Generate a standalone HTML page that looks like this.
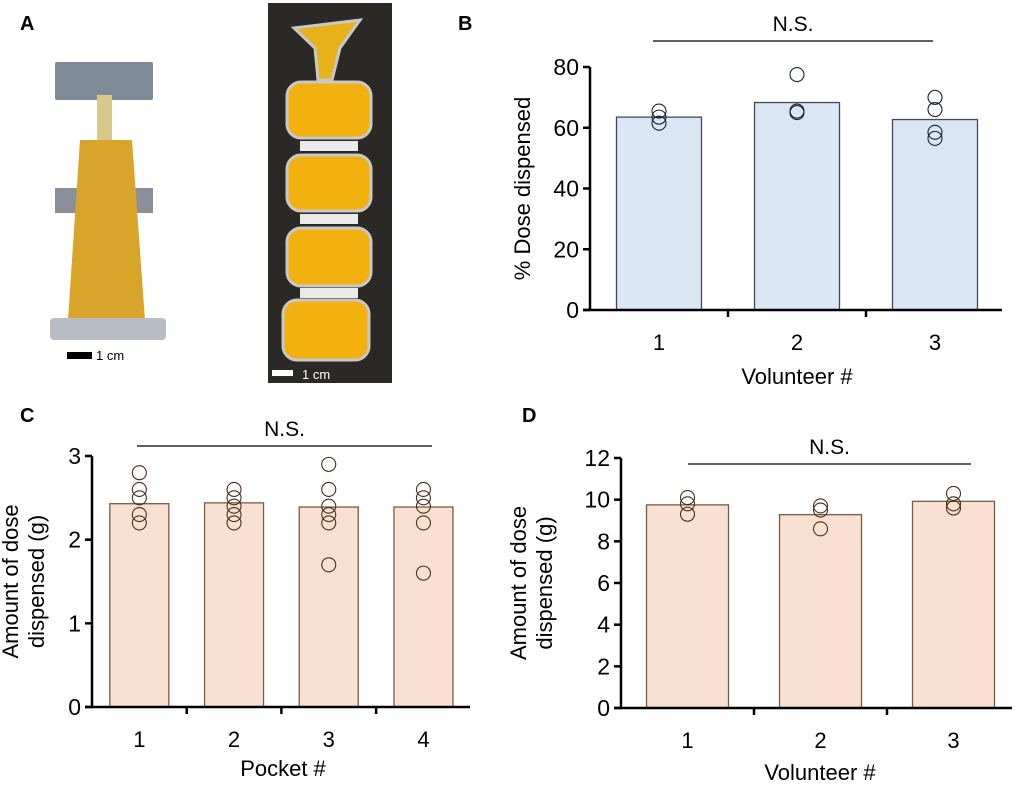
<!DOCTYPE html>
<html><head><meta charset="utf-8"><style>
html,body{margin:0;padding:0;background:#fff;}
svg{display:block;font-family:"Liberation Sans",Arial,sans-serif;}
</style></head><body>
<svg id="fig" width="1024" height="785" viewBox="0 0 1024 785" xmlns="http://www.w3.org/2000/svg">
<!-- Panel A photos -->
<g>
<text x="20" y="30" font-size="20" font-weight="bold">A</text>
<g>
<rect x="55" y="62" width="98" height="38" fill="#7f8a99" rx="2"/>
<rect x="97" y="95" width="15" height="45" fill="#d8c98a"/>
<rect x="55" y="188" width="98" height="25" fill="#8a8f9a"/>
<path d="M80 140 L132 140 L145 320 L68 320 Z" fill="#d9a42a"/>
<rect x="50" y="318" width="116" height="22" fill="#b8bcc4" rx="4"/>
<rect x="67" y="352" width="25" height="7" fill="#000"/>
<text x="96" y="360" font-size="13">1 cm</text>
</g>
<g>
<rect x="268" y="3" width="124" height="380" fill="#2b2925"/>
<path d="M294 28 L360 20 L340 48 L332 80 L318 80 L315 48 Z" fill="#e8b21a" stroke="#c8c8c8" stroke-width="3"/>
<rect x="287" y="82" width="84" height="56" rx="14" fill="#f2b10e" stroke="#c8c8c8" stroke-width="3"/>
<rect x="300" y="141" width="58" height="10" fill="#eaeaea"/>
<rect x="287" y="155" width="84" height="56" rx="14" fill="#f2b10e" stroke="#c8c8c8" stroke-width="3"/>
<rect x="300" y="214" width="58" height="10" fill="#eaeaea"/>
<rect x="287" y="228" width="84" height="58" rx="14" fill="#f2b10e" stroke="#c8c8c8" stroke-width="3"/>
<rect x="300" y="288" width="58" height="10" fill="#eaeaea"/>
<rect x="283" y="300" width="86" height="60" rx="14" fill="#f2b10e" stroke="#c8c8c8" stroke-width="3"/>
<rect x="272" y="370" width="21" height="6" fill="#fff"/>
<text x="302" y="379" font-size="13" fill="#fff">1 cm</text>
</g>
</g>
<g id="charts"></g>
</svg>
<script>
// Panel B
const bCats=["1","2","3"];
const bMeans=[63.5,68.3,62.7];
const bPts=[[65.5,63.5,61.5],[77.5,65,65.5],[70,66,58.5,56.5]];
const bTicks=[0,20,40,60,80];
// Panel C
const cCats=["1","2","3","4"];
const cMeans=[2.43,2.44,2.39,2.39];
const cPts=[[2.8,2.6,2.5,2.3,2.2],[2.6,2.5,2.4,2.3,2.2],[2.9,2.6,2.4,2.3,2.2,1.7],[2.6,2.5,2.4,2.2,1.6]];
const cTicks=[0,1,2,3];
// Panel D
const dCats=["1","2","3"];
const dMeans=[9.75,9.28,9.92];
const dPts=[[10.1,9.8,9.3],[9.7,9.5,8.6],[10.3,9.8,9.6]];
const dTicks=[0,2,4,6,8,10,12];

const NS="http://www.w3.org/2000/svg";
const root=document.getElementById('charts');
function mk(tag,attrs,parent){const e=document.createElementNS(NS,tag);for(const k in attrs)e.setAttribute(k,attrs[k]);(parent||root).appendChild(e);return e;}

function panel(o){
  const g=mk('g',{});
  
  
  const ymax=o.ticks[o.ticks.length-1];
  const y=v=>o.y0-(v/ymax)*(o.y0-o.yTop);
  const step=o.step;
  const cx=i=>o.x0+step/2+i*step;
  // bars
  o.means.forEach((m,i)=>{
    const r=mk('rect',{x:cx(i)-o.bw/2,y:y(m),width:o.bw,height:o.y0-y(m),fill:o.fill,stroke:o.stroke,'stroke-width':1.3},g);
    
    
  });
  // points
  o.pts.forEach((arr,i)=>arr.forEach(v=>{
    const c=mk('circle',{cx:cx(i),cy:y(v),r:o.pr,fill:'none',stroke:o.pstroke,'stroke-width':1.1},g);
    
    
  }));
  // axes
  const ax=mk('g',{},g);
  
  
  mk('line',{x1:o.x0,y1:o.yTop,x2:o.x0,y2:o.y0,stroke:'#000','stroke-width':2.5},ax);
  mk('line',{x1:o.x0-7,y1:o.y0,x2:o.xEnd,y2:o.y0,stroke:'#000','stroke-width':2.5},ax);
  o.ticks.forEach(t=>{
    mk('line',{x1:o.x0-7,y1:y(t),x2:o.x0,y2:y(t),stroke:'#000','stroke-width':2.5},ax);
    const tx=mk('text',{x:o.x0-11,y:y(t)+8,'font-size':23,'text-anchor':'end'},ax);
    tx.textContent=t;
    
    
  });
  o.cats.forEach((c,i)=>{
    if(i>0) mk('line',{x1:o.x0+i*step,y1:o.y0,x2:o.x0+i*step,y2:o.y0+7,stroke:'#000','stroke-width':2.5},ax);
    const tx=mk('text',{x:cx(i),y:o.y0+40,'font-size':22,'text-anchor':'middle'},ax);
    tx.textContent=c;
    
    
  });
  const xt=mk('text',{x:o.xtX,y:o.xtY,'font-size':22,'text-anchor':'middle'},g);
  xt.textContent=o.xtitle;
  
  
  const yt=mk('text',{transform:`translate(${o.ytX},${(o.y0+o.yTop)/2}) rotate(-90)`,'font-size':22,'text-anchor':'middle'},g);
  o.ytitle.forEach((l,k)=>{const ts=mk('tspan',{x:0,dy:k===0?(o.ytitle.length>1?-4:0):26},yt);ts.textContent=l;});
  
  
  // NS
  mk('line',{x1:o.ns[0],y1:o.ns[2],x2:o.ns[1],y2:o.ns[2],stroke:'#000','stroke-width':1.3},g);
  const nt=mk('text',{x:(o.ns[0]+o.ns[1])/2,y:o.ns[2]-10,'font-size':21,'text-anchor':'middle'},g);
  nt.textContent='N.S.';
  
  
  const pl=mk('text',{x:o.lab[0],y:o.lab[1],'font-size':20,'font-weight':'bold'},g);
  pl.textContent=o.letter;
  
  
}

panel({name:'panel-b-chart',cats:bCats,means:bMeans,pts:bPts,ticks:bTicks,x0:590,xEnd:1002,y0:310,yTop:67,step:138,bw:85,
  fill:'#dae6f4',stroke:'#3f4a5e',pstroke:'#1a2233',pr:7,xtitle:'Volunteer #',xtX:797,xtY:384,ytitle:['% Dose dispensed'],ytX:530,
  ns:[653,933,41],lab:[458,30],letter:'B'});
panel({name:'panel-c-chart',cats:cCats,means:cMeans,pts:cPts,ticks:cTicks,x0:92,xEnd:470,y0:707,yTop:456,step:94.7,bw:59,
  fill:'#fae0d0',stroke:'#7a5a44',pstroke:'#4a2e18',pr:7,xtitle:'Pocket #',xtX:283,xtY:776,ytitle:['Amount of dose','dispensed (g)'],ytX:22,
  ns:[137,432,446],lab:[20,422],letter:'C'});
panel({name:'panel-d-chart',cats:dCats,means:dMeans,pts:dPts,ticks:dTicks,x0:621,xEnd:1012,y0:708,yTop:458,step:133,bw:82,
  fill:'#fae0d0',stroke:'#7a5a44',pstroke:'#4a2e18',pr:7,xtitle:'Volunteer #',xtX:820,xtY:780,ytitle:['Amount of dose','dispensed (g)'],ytX:530,
  ns:[688,971,464],lab:[522,422],letter:'D'});
</script>
</body></html>
